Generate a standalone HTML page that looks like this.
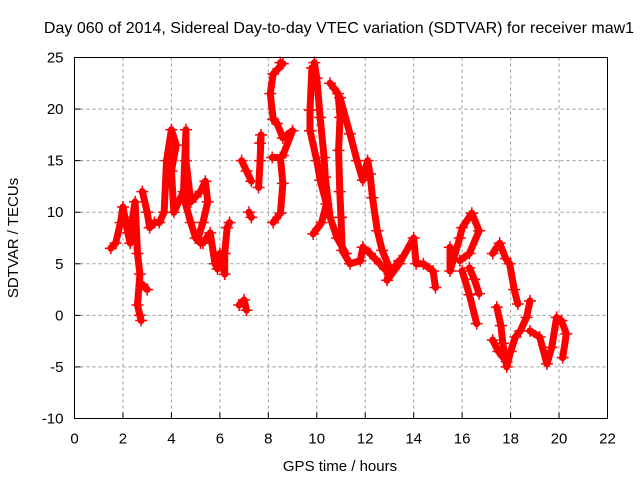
<!DOCTYPE html>
<html><head><meta charset="utf-8"><style>
body{margin:0;background:#fff}
svg{display:block;font-family:"Liberation Sans",sans-serif}
</style></head><body>
<svg id="chart" width="640" height="480" viewBox="0 0 640 480" xmlns="http://www.w3.org/2000/svg">
<rect width="640" height="480" fill="#fff"/>
<text x="339" y="33" font-size="16" text-anchor="middle" fill="#000">Day 060 of 2014, Sidereal Day-to-day VTEC variation (SDTVAR) for receiver maw1</text>
<text x="340" y="471" font-size="15" text-anchor="middle">GPS time / hours</text>
<text transform="translate(18,238) rotate(-90)" font-size="15" text-anchor="middle">SDTVAR / TECUs</text>
<g id="grid"></g>
<g id="ticks"></g>
<g id="marks"></g>
<rect x="74.5" y="57.5" width="533" height="361" fill="none" stroke="#000" stroke-width="1"/>
</svg>
<script>
const xTicks = [0,2,4,6,8,10,12,14,16,18,20,22];
const yTicks = [-10,-5,0,5,10,15,20,25];
const trace1T = [1.5,1.7,1.9,2.0,2.2,2.3,2.4,2.5,2.6,2.7,2.6,2.7,2.75];
const trace1V = [6.5,7,9,10.5,8,7,9.5,11,6,4,1,0,-0.5];
const trace2T = [2.8,3.0];
const trace2V = [3,2.5];
const trace3T = [2.8,3.0,3.1,3.3,3.5,3.7,3.8,4.0,4.2,4.0,4.1,4.3,4.5,4.6,4.6,4.8,5.0,5.2,5.4,5.5,5.3,5.1,5.3,5.6,5.8,5.9,6.0,6.2,6.2,6.3,6.4];
const trace3V = [12,10,8.5,9,9,10,15,18,16.5,14,10,11,12,18,15,11,11.5,12,13,11,9,7.5,7,8,5,4.5,6,4,6,8.5,9];
const trace4T = [4.5,4.8,5.0,5.2];
const trace4V = [11.5,9,7.5,7];
const trace5T = [6.8,7.0,7.1];
const trace5V = [1,1.5,0.5];
const trace6T = [7.2,7.3];
const trace6V = [10,9.5];
const trace7T = [6.9,7.1,7.3];
const trace7V = [15,14,13];
const trace8T = [7.66,7.7,7.66,7.6];
const trace8V = [16.7,17.5,15,12.4];
const trace9T = [8.5,8.6,8.2,8.08,8.2,8.36,8.6,9.0,8.6,8.5,8.16,8.5,8.6,8.5,8.2];
const trace9V = [24.5,24.4,23.4,21.5,19,18.6,17.2,17.9,15.5,15.3,15.3,15.3,12.8,9.9,9.0];
const trace10T = [9.8,9.72,9.72,10.0,10.14,10.4,10.2,9.85];
const trace10V = [24,19.9,17.9,15,13.1,10.8,9,7.9];
const trace11T = [9.9,10.0,10.14,10.3,10.35,10.55,10.84,11.2];
const trace11V = [24.5,23,19.2,15.3,13.4,9.5,7.5,6];
const trace12T = [10.55,10.88,10.96,10.9,10.95,11.0,11.05,11.37,11.8,11.9];
const trace12V = [22.5,21.5,19.2,16,12,9.5,6.3,5,5.3,6.6];
const trace13T = [10.96,11.37,11.66,11.9,12.1,12.2,12.3,12.5,12.7,13.0,12.9,13.4,14.0,14.1,14.4,14.8,14.9];
const trace13V = [21.1,17.6,15,13.1,15,13.7,11.4,8.2,6.3,4.6,3.4,5,7.5,5,5,4.3,2.7];
const trace14T = [11.9,12.2,12.6,13.0,13.4];
const trace14V = [6.6,6,5,4,5.3];
const trace15T = [15.5,15.5,15.9,16.0,16.4,16.7,16.3,15.9];
const trace15V = [6.6,4.3,7.5,8.5,9.9,8.2,6,5.3];
const trace16T = [16.0,16.3,16.6];
const trace16V = [4.3,2,-0.8];
const trace17T = [16.3,16.5,16.7];
const trace17V = [4.6,3.5,2.1];
const trace18T = [17.26,17.55,17.8,17.96,18.15,18.3];
const trace18V = [6,7,5.5,5,2.5,1.1];
const trace19T = [17.43,17.6,17.68,17.84,18.0,18.2,18.4,18.66,18.8];
const trace19V = [0.8,-1,-2.7,-5,-3.5,-2.1,-1.5,-0.2,1.4];
const trace20T = [17.26,17.5,17.84];
const trace20V = [-2.4,-3.5,-4.5];
const trace21T = [18.8,19.2,19.5,19.7,19.9,20.1,20.3,20.15];
const trace21V = [-1.5,-2.1,-4.7,-3.1,-0.2,-0.5,-1.8,-4.1];
const allT = [trace1T,trace2T,trace3T,trace4T,trace5T,trace6T,trace7T,trace8T,trace9T,trace10T,trace11T,trace12T,trace13T,trace14T,trace15T,trace16T,trace17T,trace18T,trace19T,trace20T,trace21T];
const allV = [trace1V,trace2V,trace3V,trace4V,trace5V,trace6V,trace7V,trace8V,trace9V,trace10V,trace11V,trace12V,trace13V,trace14V,trace15V,trace16V,trace17V,trace18V,trace19V,trace20V,trace21V];

const NS = "http://www.w3.org/2000/svg";
const L = 74.5, R = 607.5, T = 57.5, B = 418.5;
function xs(t){ return L + (t - 0) / 22 * (R - L); }
function ys(v){ return B - (v + 10) / 35 * (B - T); }
function mk(tag, attrs, parent){
  const e = document.createElementNS(NS, tag);
  for (const k in attrs) e.setAttribute(k, attrs[k]);
  parent.appendChild(e);
  return e;
}
const grid = document.getElementById('grid');
const ticks = document.getElementById('ticks');
const marks = document.getElementById('marks');
xTicks.forEach(function(t){
  const x = xs(t);
  if (t > 0 && t < 22) {
    const g = mk('line', {x1:x, x2:x, y1:T, y2:B, stroke:'#999', 'stroke-dasharray':'3,3', 'stroke-width':1}, grid);
    
    
  }
  const tk = mk('line', {x1:x, x2:x, y1:B, y2:B-6, stroke:'#000'}, ticks);
  
  
  const lb = mk('text', {x:x, y:B+25, 'font-size':15, 'text-anchor':'middle'}, ticks);
  lb.textContent = String(t);
  
  
});
yTicks.forEach(function(v){
  const y = ys(v);
  if (v > -10 && v < 25) {
    const g = mk('line', {x1:L, x2:R, y1:y, y2:y, stroke:'#999', 'stroke-dasharray':'3,3', 'stroke-width':1}, grid);
    
    
  }
  const tk = mk('line', {x1:L, x2:L+6, y1:y, y2:y, stroke:'#000'}, ticks);
  
  
  const lb = mk('text', {x:L-11, y:y+5, 'font-size':15, 'text-anchor':'end'}, ticks);
  lb.textContent = String(v);
  
  
});
allT.forEach(function(ts, i){
  const vs = allV[i];
  const pts = ts.map(function(t, j){ return xs(t) + ',' + ys(vs[j]); }).join(' ');
  const pl = mk('polyline', {points:pts, fill:'none', stroke:'#f00', 'stroke-width':7, 'stroke-linejoin':'round', 'stroke-linecap':'round'}, marks);
  
  
  ts.forEach(function(t, j){
    const x = xs(t), y = ys(vs[j]);
    const p = mk('path', {d:'M'+(x-6)+','+y+'H'+(x+6)+'M'+x+','+(y-6)+'V'+(y+6), stroke:'#f00', 'stroke-width':1.5, fill:'none'}, marks);
    
    
  });
});
</script>
</body></html>
